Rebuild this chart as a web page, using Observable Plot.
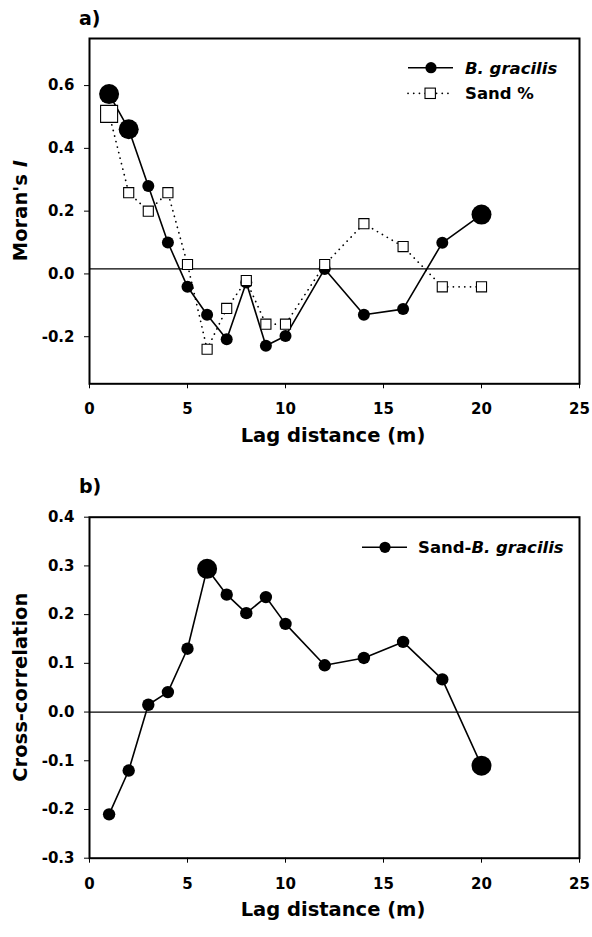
<!DOCTYPE html>
<html><head><meta charset="utf-8">
<script src="https://cdn.jsdelivr.net/npm/d3@7"></script>
<script src="https://cdn.jsdelivr.net/npm/@observablehq/plot@0.6"></script>
<style>
body{margin:0;background:#fff;}
#wrap{position:relative;width:592px;height:937px;overflow:hidden;}
#wrap svg{position:absolute;left:0;}
</style></head><body><div id="wrap"></div>
<script>
// ---- data ----
const lags = [1, 2, 3, 4, 5, 6, 7, 8, 9, 10, 12, 14, 16, 18, 20];
const gracilisMoran = [0.573, 0.461, 0.28, 0.10, -0.041, -0.13, -0.208, -0.027, -0.229, -0.198, 0.016, -0.13, -0.112, 0.099, 0.189];
const gracilisSignificant = [true, true, false, false, false, false, false, false, false, false, false, false, false, false, true];
const sandMoran = [0.51, 0.259, 0.20, 0.259, 0.03, -0.24, -0.11, -0.021, -0.16, -0.16, 0.03, 0.16, 0.087, -0.041, -0.041];
const sandSignificant = [true, false, false, false, false, false, false, false, false, false, false, false, false, false, false];
const crossCorr = [-0.21, -0.12, 0.015, 0.041, 0.130, 0.294, 0.241, 0.203, 0.236, 0.181, 0.096, 0.111, 0.144, 0.067, -0.110];
const crossSignificant = [false, false, false, false, false, true, false, false, false, false, false, false, false, false, true];
const xTicks = [0, 5, 10, 15, 20, 25];
const moranTicks = [-0.2, 0.0, 0.2, 0.4, 0.6];
const crossTicks = [-0.3, -0.2, -0.1, 0.0, 0.1, 0.2, 0.3, 0.4];
const moranExpected = 0.016;

const gracilis = lags.map((l, i) => ({lag: l, v: gracilisMoran[i], sig: gracilisSignificant[i]}));
const sand = lags.map((l, i) => ({lag: l, v: sandMoran[i], sig: sandSignificant[i]}));
const cross = lags.map((l, i) => ({lag: l, v: crossCorr[i], sig: crossSignificant[i]}));

const FONT = "DejaVu Sans";
const ML = 89, MR = 13, W = 592;
const dotted = {stroke: "black", strokeWidth: 1.7, strokeDasharray: "0.1 5.6", strokeLinecap: "round"};

function makePlot({height, marginTop, marginBottom, yDomain, yTicks, rule, marks}) {
  return Plot.plot({
    width: W, height, marginTop, marginBottom, marginLeft: ML, marginRight: MR,
    style: {fontFamily: FONT, fontSize: "15px", fontWeight: "bold", background: "white", color: "black", overflow: "visible"},
    x: {domain: [0, 25], ticks: xTicks, tickFormat: d => String(d), tickSize: 5, tickPadding: 15, label: null},
    y: {domain: yDomain, ticks: yTicks, tickFormat: d => d.toFixed(1), tickSize: 5, tickPadding: 10, label: null},
    marks: [
      Plot.ruleY([rule], {stroke: "black", strokeWidth: 1.2}),
      ...marks,
      Plot.frame({stroke: "black", strokeWidth: 2})
    ]
  });
}

const wrap = document.getElementById("wrap");

// ---- panel a ----
const aTop = 38, aBottom = 383.3, aH = 460;
const plotA = makePlot({
  height: aH, marginTop: aTop, marginBottom: aH - aBottom,
  yDomain: [-0.35, 0.75], yTicks: moranTicks, rule: moranExpected,
  marks: [
    Plot.line(gracilis, {x: "lag", y: "v", stroke: "black", strokeWidth: 1.6}),
    Plot.dot(gracilis, {x: "lag", y: "v", r: 6, fill: "black", filter: d => !d.sig}),
    Plot.dot(gracilis, {x: "lag", y: "v", r: 10, fill: "black", filter: d => d.sig}),
    Plot.line(sand, {x: "lag", y: "v", ...dotted}),
    Plot.dot(sand, {x: "lag", y: "v", symbol: "square", r: 5.7, fill: "white", stroke: "black", strokeWidth: 1.1, filter: d => !d.sig}),
    Plot.dot(sand, {x: "lag", y: "v", symbol: "square", r: 9.6, fill: "white", stroke: "black", strokeWidth: 1.1, filter: d => d.sig})
  ]
});
plotA.style.top = "0px";
wrap.appendChild(plotA);

// ---- panel b ----
const bOff = 460, bTop = 516.7, bBottom = 857.7, bH = 477;
const plotB = makePlot({
  height: bH, marginTop: bTop - bOff, marginBottom: bOff + bH - bBottom,
  yDomain: [-0.3, 0.4], yTicks: crossTicks, rule: 0,
  marks: [
    Plot.line(cross, {x: "lag", y: "v", stroke: "black", strokeWidth: 1.6}),
    Plot.dot(cross, {x: "lag", y: "v", r: 6.2, fill: "black", filter: d => !d.sig}),
    Plot.dot(cross, {x: "lag", y: "v", r: 10, fill: "black", filter: d => d.sig})
  ]
});
plotB.style.top = bOff + "px";
wrap.appendChild(plotB);

// ---- annotation texts (titles, axis labels, legends) ----
function decorate(svg, {title, titleY, yLabelParts, plotTopY, plotBottomY}) {
  const s = d3.select(svg);
  s.append("text").attr("x", 79).attr("y", titleY).attr("text-anchor", "start")
    .attr("font-size", 19).attr("font-weight", "bold").text(title);
  const yl = s.append("text").attr("transform", `translate(27,${(plotTopY + plotBottomY) / 2}) rotate(-90)`)
    .attr("text-anchor", "middle").attr("font-size", 19.5).attr("font-weight", "bold");
  yLabelParts.forEach(([t, it]) => yl.append("tspan").attr("font-style", it ? "italic" : "normal").text(t));
  s.append("text").attr("x", 333).attr("y", plotBottomY + 58.5).attr("text-anchor", "middle")
    .attr("font-size", 19.5).attr("font-weight", "bold").text("Lag distance (m)");
  return s;
}

const sa = decorate(plotA, {title: "a)", titleY: 25, yLabelParts: [["Moran's ", false], ["I", true]], plotTopY: aTop, plotBottomY: aBottom});
// legend a
sa.append("line").attr("x1", 408).attr("x2", 453).attr("y1", 67.7).attr("y2", 67.7).attr("stroke", "black").attr("stroke-width", 1.6);
sa.append("circle").attr("cx", 431).attr("cy", 67.7).attr("r", 5.6).attr("fill", "black");
sa.append("text").attr("x", 465).attr("y", 73.7).attr("text-anchor", "start").attr("font-size", 16.5)
  .attr("font-weight", "bold").attr("font-style", "italic").text("B. gracilis");
sa.append("line").attr("x1", 408).attr("x2", 453).attr("y1", 93.3).attr("y2", 93.3)
  .attr("stroke", "black").attr("stroke-width", 1.7).attr("stroke-dasharray", "0.1 5.6").attr("stroke-linecap", "round");
sa.append("rect").attr("x", 425).attr("y", 88.1).attr("width", 10.4).attr("height", 10.4).attr("fill", "white").attr("stroke", "black").attr("stroke-width", 1.1);
sa.append("text").attr("x", 465).attr("y", 99.3).attr("text-anchor", "start").attr("font-size", 16.5).attr("font-weight", "bold").text("Sand %");

const sb = decorate(plotB, {title: "b)", titleY: 493 - bOff, yLabelParts: [["Cross-correlation", false]], plotTopY: bTop - bOff, plotBottomY: bBottom - bOff});
// legend b
const lyb = 547.3 - bOff;
sb.append("line").attr("x1", 362).attr("x2", 407).attr("y1", lyb).attr("y2", lyb).attr("stroke", "black").attr("stroke-width", 1.6);
sb.append("circle").attr("cx", 385).attr("cy", lyb).attr("r", 5.6).attr("fill", "black");
const lt = sb.append("text").attr("x", 418).attr("y", lyb + 6).attr("text-anchor", "start").attr("font-size", 16.5).attr("font-weight", "bold");
lt.append("tspan").text("Sand-");
lt.append("tspan").attr("font-style", "italic").text("B. gracilis");
</script></body></html>
